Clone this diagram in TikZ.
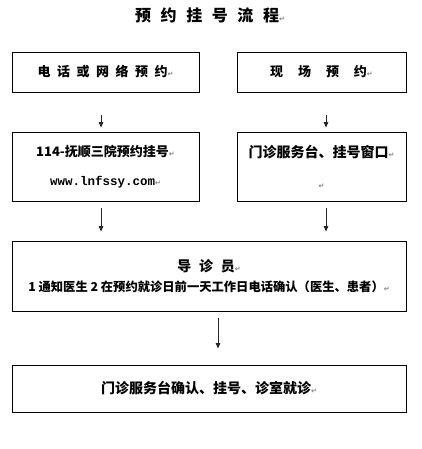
\documentclass[tikz,border=0pt]{standalone}
\usepackage{fontspec}
\setmainfont{Liberation Serif}
\newfontfamily\cjk{Noto Sans CJK SC}
\newfontfamily\mono{Liberation Mono}
\newfontfamily\sym{DejaVu Sans}
\usetikzlibrary{arrows.meta,positioning}
\newcommand{\ret}{{\sym\fontsize{7}{7}\selectfont\color{gray}↵}}

\begin{document}
\begin{tikzpicture}[x=1pt,y=1pt,
    box/.style={draw, line width=0.8pt, inner sep=0pt, align=center,
      font=\cjk\bfseries\fontsize{13}{13}\selectfont},
    arr/.style={-{Triangle[length=5.5pt,width=4.5pt]}, line width=0.9pt, draw=black!85},
  ]
  \useasboundingbox (0,0) rectangle (422,-449);

  % Title
  \node[font=\cjk\bfseries\fontsize{16}{16}\selectfont] (title) at (210,-15)
    {\addfontfeatures{LetterSpace=60}预约挂号流程\ret};

  % Two ways to book
  \node[box, minimum width=187, minimum height=40] (phone) at (105.5,-72)
    {\addfontfeatures{LetterSpace=50}电话或网络预约\ret};
  \node[box, minimum width=169, minimum height=40] (onsite) at (321.5,-72)
    {\addfontfeatures{LetterSpace=115}现场预约\ret};

  \node[box, minimum width=187, minimum height=69] (hotline) at (105.5,-166.5)
    {114-抚顺三院预约挂号\ret\\[16pt]
     {\mono\bfseries\fontsize{12.5}{12.5}\selectfont www.lnfssy.com}\ret};
  \node[box, minimum width=169, minimum height=69, font=\cjk\bfseries\fontsize{14}{14}\selectfont]
    (desk) at (321.5,-166.5) {门诊服务台、挂号窗口\ret\\[17pt]\ret};

  % Guide
  \node[box, minimum width=394, minimum height=70] (guide) at (209,-276)
    {{\fontsize{14}{14}\selectfont\addfontfeatures{LetterSpace=55}导诊员}\ret\\[7pt]
     {\fontsize{12.3}{12.3}\selectfont 1 通知医生 2 在预约就诊日前一天工作日电话确认（医生、患者）}\ret};

  \node[box, minimum width=394, minimum height=47, font=\cjk\bfseries\fontsize{14}{14}\selectfont]
    (visit) at (209,-388.5) {门诊服务台确认、挂号、诊室就诊\ret};

  % Arrow columns
  \coordinate (lcol) at (101,0);
  \coordinate (rcol) at (326,0);
  \coordinate (mcol) at (218,0);

  % Arrows
  \draw[arr] ([yshift=-23pt]phone.south -| lcol) -- ([yshift=4pt]hotline.north -| lcol);
  \draw[arr] ([yshift=-23pt]onsite.south -| rcol) -- ([yshift=4pt]desk.north -| rcol);
  \draw[arr] ([yshift=-7pt]hotline.south -| lcol) -- ([yshift=9pt]guide.north -| lcol);
  \draw[arr] ([yshift=-7pt]desk.south -| rcol) -- ([yshift=9pt]guide.north -| rcol);
  \draw[arr] ([yshift=-7pt]guide.south -| mcol) -- ([yshift=16pt]visit.north -| mcol);
\end{tikzpicture}
\end{document}
